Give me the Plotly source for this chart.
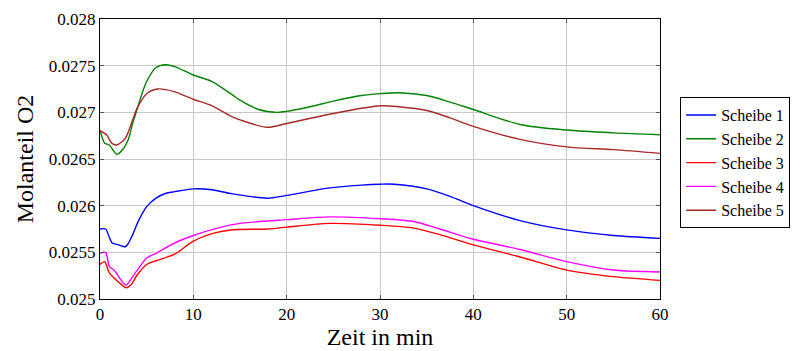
import plotly.graph_objects as go

# Time axis samples (minutes) and O2 mole fraction for each disc
t_s1 = [0, 0.6, 1.0, 1.3, 2.0, 2.7, 3.0, 3.5, 4.0, 4.5, 5.0, 6.0, 7.0, 8.0, 10, 12, 14, 17.9, 20,
        24.6, 28, 30, 31.5, 35, 37.5, 40, 45, 50, 55, 60]
s1 = [0.02575, 0.02575, 0.02566, 0.0256, 0.02558, 0.02556, 0.02559, 0.02569, 0.02581, 0.02591, 0.02599,
      0.02608, 0.02613, 0.02615, 0.02618, 0.02617, 0.02613, 0.02608, 0.02611, 0.02619, 0.02622, 0.02623,
      0.02623, 0.02618, 0.0261, 0.026, 0.02584, 0.02574, 0.02568, 0.02565]

t_s2 = [0, 0.2, 0.5, 1.0, 1.8, 2.5, 3.0, 3.5, 4.0, 4.5, 5.0, 6.0, 7.0, 8.0, 10, 12, 14, 15, 17, 19,
        20, 22.5, 25, 28, 30, 32, 35, 37.5, 40, 45, 50, 55, 60]
s2 = [0.02681, 0.02674, 0.02667, 0.02665, 0.02655, 0.02661, 0.0267, 0.02688, 0.02704, 0.0272, 0.02733,
      0.02748, 0.02751, 0.02749, 0.0274, 0.02733, 0.0272, 0.02713, 0.02703, 0.027, 0.02701, 0.02706,
      0.02712, 0.02718, 0.0272, 0.02721, 0.02718, 0.02711, 0.02703, 0.02687, 0.02681, 0.02678, 0.02676]

t_s3 = [0, 0.5, 1.0, 2.0, 2.8, 3.3, 4.0, 5.0, 6.0, 8.0, 10, 12, 14, 18, 20, 24.6, 30, 33.6, 36.4,
        40, 45, 50, 55, 60]
s3 = [0.02537, 0.0254, 0.02528, 0.02518, 0.02512, 0.02515, 0.02526, 0.02537, 0.02541, 0.02548, 0.02562,
      0.0257, 0.02574, 0.02575, 0.02577, 0.02581, 0.02579, 0.02576, 0.02569, 0.02558, 0.02545, 0.02531,
      0.02524, 0.0252]

t_s4 = [0, 0.6, 1.0, 1.5, 2.0, 2.5, 2.8, 3.5, 4.0, 5.0, 6.0, 8.0, 10, 13, 15, 20, 24.6, 30, 33.6,
        36.4, 40, 45, 50, 55, 60]
s4 = [0.02549, 0.0255, 0.02535, 0.02531, 0.02524, 0.02517, 0.02515, 0.02524, 0.02531, 0.02544, 0.02549,
      0.0256, 0.02568, 0.02577, 0.02581, 0.02585, 0.02588, 0.02586, 0.02583, 0.02575, 0.02564, 0.02553,
      0.0254, 0.02531, 0.02529]

t_s5 = [0, 0.7, 1.25, 1.8, 2.7, 3.5, 4.0, 5.0, 6.2, 8.0, 10, 12, 14, 15, 17.9, 20, 24.6, 30, 32, 35,
        37.5, 40, 45, 50, 55, 60]
s5 = [0.0268, 0.02676, 0.02667, 0.02665, 0.02672, 0.02692, 0.02705, 0.0272, 0.02725, 0.02722, 0.02714,
      0.02707, 0.02696, 0.02692, 0.02684, 0.02688, 0.02698, 0.02707, 0.02706, 0.02702, 0.02694, 0.02685,
      0.02671, 0.02663, 0.0266, 0.02656]

names = ["Scheibe 1", "Scheibe 2", "Scheibe 3", "Scheibe 4", "Scheibe 5"]
colors = ["#0000ff", "#008000", "#ff0000", "#ff00ff", "#a52a2a"]
series = [(t_s1, s1), (t_s2, s2), (t_s3, s3), (t_s4, s4), (t_s5, s5)]

x_ticks = [0, 10, 20, 30, 40, 50, 60]
y_ticks = [0.025, 0.0255, 0.026, 0.0265, 0.027, 0.0275, 0.028]
y_tick_text = ["0.025", "0.0255", "0.026", "0.0265", "0.027", "0.0275", "0.028"]

FONT = "Liberation Serif"

fig = go.Figure()
for i, ((tx, ty), name, col) in enumerate(zip(series, names, colors)):
    fig.add_trace(go.Scatter(
        x=tx, y=ty, mode="lines", name=name, legendgroup=str(i),
        line=dict(color=col, width=1.4, shape="spline", smoothing=0.8),
    ))

axis_common = dict(
    showline=True, linecolor="black", linewidth=1, mirror="allticks",
    ticks="inside", ticklen=4, tickcolor="#555",
    showgrid=True, gridcolor="#c8c8c8", gridwidth=1, zeroline=False,
)

fig.update_layout(
    width=798, height=351,
    margin=dict(l=100, r=138, t=19, b=52, autoexpand=False),
    paper_bgcolor="white", plot_bgcolor="white",
    font=dict(family=FONT, color="black", size=17),
    xaxis=dict(range=[0, 60], tickvals=x_ticks,
               tickfont=dict(family=FONT, size=17, color="black"),
               title=dict(text="Zeit in min", font=dict(family=FONT, size=24), standoff=2),
               **axis_common),
    yaxis=dict(range=[0.025, 0.028], tickvals=y_ticks, ticktext=y_tick_text,
               tickfont=dict(family=FONT, size=17, color="black"),
               title=dict(text="Molanteil O2", font=dict(family=FONT, size=24), standoff=8),
               **axis_common),
    legend=dict(x=1.036, y=0.721, xanchor="left", yanchor="top",
                bordercolor="black", borderwidth=1, bgcolor="white",
                font=dict(family=FONT, size=16, color="black"),
                traceorder="grouped", tracegroupgap=0, itemwidth=30),
)

fig.write_html("out.html")
